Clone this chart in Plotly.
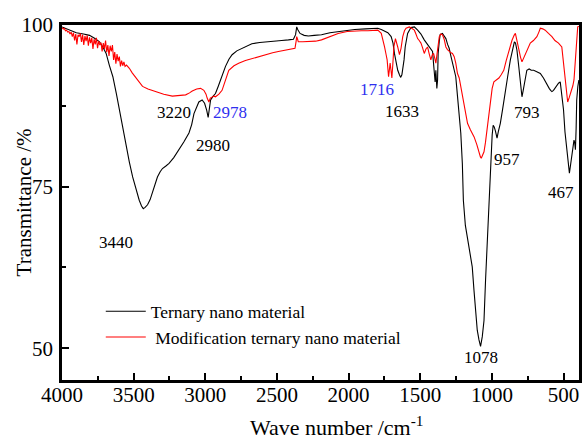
import plotly.graph_objects as go

# ---- Data ----
wn_ternary = [4000, 3950, 3900, 3850, 3808, 3770, 3738, 3715, 3692, 3670, 3645, 3620, 3600, 3575,
              3553, 3530, 3507, 3485, 3461, 3445, 3433, 3420, 3403, 3385, 3369, 3350, 3334, 3315,
              3299, 3275, 3253, 3220, 3183, 3150, 3114, 3095, 3079, 3060, 3045, 3022, 3005, 2990,
              2980, 2972, 2963, 2945, 2929, 2910, 2894, 2875, 2859, 2835, 2813, 2780, 2744, 2700,
              2675, 2620, 2582, 2520, 2467, 2420, 2385, 2370, 2362, 2355, 2339, 2310, 2281, 2240,
              2189, 2130, 2073, 2010, 1957, 1880, 1830, 1796, 1772, 1749, 1726, 1703, 1690, 1680,
              1668, 1657, 1645, 1636, 1628, 1622, 1613, 1605, 1595, 1588, 1565, 1541, 1518, 1495,
              1472, 1450, 1437, 1414, 1405, 1402, 1396, 1391, 1384, 1379, 1375, 1367, 1361, 1345,
              1333, 1321, 1309, 1298, 1286, 1275, 1263, 1252, 1240, 1230, 1217, 1206, 1199, 1185,
              1172, 1160, 1148, 1137, 1125, 1114, 1102, 1090, 1079, 1067, 1055, 1044, 1033, 1021,
              1010, 1005, 998, 991, 983, 975, 968, 964, 955, 941, 925, 906, 890, 871, 855, 843,
              835, 825, 812, 802, 795, 790, 782, 774, 765, 756, 740, 725, 708, 690, 675, 662, 640,
              616, 600, 590, 581, 570, 555, 546, 535, 523, 512, 500, 490, 477, 466, 459, 450, 442,
              435, 427, 422, 417, 412, 408, 400, 393]
t_ternary = [99.7, 99.2, 98.8, 98.6, 98.4, 97.9, 97.4, 96.6, 95.6, 93.8, 92.0, 89.3, 86.9, 84.0,
             81.2, 78.8, 76.5, 74.6, 72.9, 72.0, 71.6, 71.8, 72.2, 73.0, 74.0, 75.3, 76.5, 77.3,
             77.8, 78.2, 78.6, 79.5, 80.7, 81.9, 83.3, 84.6, 86.3, 87.4, 88.1, 88.4, 87.9, 86.8,
             85.7, 87.0, 88.4, 89.0, 89.4, 90.5, 91.5, 92.6, 93.6, 94.7, 95.4, 96.0, 96.4, 96.9,
             97.1, 97.3, 97.4, 97.5, 97.6, 97.7, 97.8, 98.5, 99.7, 99.3, 98.7, 98.4, 98.3, 98.4,
             98.5, 98.8, 99.0, 99.2, 99.3, 99.4, 99.5, 99.5, 99.3, 99.1, 98.8, 98.2, 97.2, 95.6,
             94.3, 93.0, 92.3, 91.9, 92.3, 93.0, 94.6, 96.6, 98.0, 98.7, 99.6, 99.7, 99.2, 98.6,
             97.7, 97.0, 96.6, 95.9, 93.5, 92.5, 91.2, 93.0, 90.2, 91.5, 95.6, 97.5, 98.5, 98.7,
             98.3, 97.9, 97.0, 96.4, 95.2, 94.1, 93.0, 92.0, 89.0, 86.5, 83.3, 78.5, 72.9, 69.0,
             67.3, 65.7, 64.2, 62.6, 59.0, 55.4, 52.8, 51.3, 50.3, 51.8, 54.3, 60.6, 65.7, 70.9,
             76.0, 80.5, 83.0, 84.5, 84.2, 83.6, 82.8, 82.5, 83.5, 84.8, 87.0, 89.4, 92.0, 94.6,
             96.5, 97.4, 97.2, 96.1, 93.5, 91.0, 89.5, 88.9, 89.8, 91.0, 92.2, 93.0, 93.2, 93.0,
             93.0, 92.8, 92.6, 92.5, 91.8, 90.7, 90.2, 89.9, 89.7, 89.9, 90.4, 90.7, 91.0, 91.2,
             89.5, 86.9, 83.5, 80.7, 78.2, 77.1, 78.5, 79.6, 81.0, 82.2, 81.8, 80.7, 84.0, 88.4,
             90.5, 91.5]

wn_modified = [4000, 3992, 3984, 3976, 3968, 3960, 3952, 3944, 3936, 3928, 3920, 3912, 3904, 3896,
               3888, 3880, 3872, 3864, 3856, 3848, 3840, 3832, 3824, 3816, 3808, 3800, 3792, 3784,
               3776, 3768, 3760, 3752, 3744, 3736, 3728, 3720, 3712, 3704, 3696, 3688, 3680, 3672,
               3664, 3656, 3648, 3640, 3632, 3624, 3616, 3608, 3600, 3592, 3584, 3576, 3568, 3560,
               3550, 3530, 3510, 3490, 3473, 3455,
               3438, 3400, 3345, 3290, 3230, 3180, 3137, 3110, 3091, 3060, 3033, 3010, 2995, 2987,
               2975, 2965, 2952, 2940, 2929, 2905, 2883, 2860, 2836, 2800, 2767, 2720, 2675, 2620,
               2582, 2530, 2490, 2440, 2397, 2374, 2366, 2362, 2356, 2351, 2320, 2281, 2230, 2189,
               2130, 2073, 2010, 1957, 1910, 1865, 1830, 1796, 1772, 1760, 1749, 1738, 1731, 1721,
               1715, 1710, 1704, 1698, 1691, 1684, 1673, 1665, 1657, 1645, 1634, 1622, 1610, 1599,
               1588, 1576, 1560, 1541, 1530, 1518, 1507, 1495, 1484, 1472, 1460, 1449, 1437, 1426,
               1416, 1407, 1400, 1391, 1380, 1367, 1356, 1345, 1333, 1321, 1310, 1298, 1285, 1275,
               1263, 1252, 1240, 1228, 1217, 1200, 1183, 1170, 1150, 1124, 1105, 1090, 1080, 1074,
               1065, 1055, 1045, 1033, 1021, 1010, 998, 986, 970, 951, 935, 917, 900, 882, 860, 845,
               836, 825, 813, 800, 790, 780, 767, 750, 732, 710, 686, 672, 662, 645, 628, 605, 581,
               560, 535, 512, 500, 489, 480, 471, 460, 450, 442, 435, 427, 418, 408, 401, 393]
t_modified = [99.6, 99.4, 99.5, 99.1, 99.2, 98.9, 99.0, 98.6, 98.9, 98.2, 98.8, 97.6, 98.6, 97.0,
              98.5, 98.2, 98.7, 97.4, 98.5, 96.9, 98.3, 97.5, 98.4, 96.8, 98.1, 97.2, 98.0, 96.3,
              97.8, 97.0, 98.0, 96.4, 97.5, 96.9, 97.3, 95.9, 97.2, 96.3, 97.6, 95.8, 96.9, 95.2,
              96.8, 95.9, 96.9, 94.6, 95.8, 94.0, 95.5, 94.4, 95.1, 93.6, 94.5, 93.7, 94.3, 93.6,
              93.8, 93.3, 92.6, 92.0, 91.6, 91.0,
              90.5, 90.1, 89.7, 89.3, 89.0, 89.1, 89.2, 89.5, 89.8, 90.1, 90.2, 89.9, 89.3, 88.7,
              88.1, 88.7, 88.9, 89.0, 88.9, 89.3, 89.9, 91.5, 93.0, 93.7, 94.1, 94.5, 94.8, 95.2,
              95.4, 95.7, 95.9, 96.1, 96.2, 96.4, 97.5, 98.2, 97.8, 97.4, 97.4, 97.4, 97.5, 97.7,
              98.2, 98.7, 99.0, 99.1, 99.1, 99.1, 99.2, 99.2, 98.7, 97.8, 96.6, 95.4, 94.6, 92.0,
              93.5, 94.1, 93.0, 91.8, 94.0, 96.6, 97.9, 97.4, 96.6, 95.4, 96.4, 98.2, 99.1, 99.5,
              99.6, 99.7, 99.5, 99.2, 98.6, 97.9, 97.6, 97.2, 96.5, 95.6, 96.3, 96.6, 95.5, 94.6,
              95.4, 95.6, 95.0, 94.1, 96.0, 98.2, 98.6, 98.5, 97.8, 96.6, 96.2, 95.9, 95.7, 95.6,
              95.1, 94.1, 92.5, 91.8, 90.5, 88.5, 86.5, 84.8, 83.8, 82.7, 81.5, 80.2, 79.6, 79.4,
              79.8, 80.4, 81.8, 83.8, 86.2, 88.4, 90.2, 91.2, 91.5, 91.8, 92.3, 93.0, 94.5, 96.1,
              97.6, 98.4, 98.7, 97.6, 96.1, 95.0, 94.3, 94.8, 95.6, 96.5, 97.2, 97.6, 98.2, 98.9,
              99.5, 99.4, 99.2, 98.7, 98.2, 97.6, 97.2, 96.6, 94.0, 91.0, 89.0, 88.1, 88.8, 89.5,
              89.9, 90.6, 91.5, 94.5, 98.7, 99.7, 99.8]

series_names = ["Ternary nano material", "\u00a0Modification ternary nano material"]
series_colors = ["#000000", "#ff0000"]

# peak labels: (text, wavenumber position, transmittance position, colour)
peak_text = ["3220", "2978", "2980", "3440", "1716", "1633", "793", "957", "467", "1078"]
peak_x = [3218, 2831, 2947, 3620, 1803, 1627, 753, 893, 515, 1075]
peak_y = [86.4, 86.4, 81.4, 66.3, 90.1, 86.7, 86.5, 79.2, 74.1, 48.6]
peak_color = ["#000000", "#2f2fef", "#000000", "#000000", "#2f2fef", "#000000", "#000000",
              "#000000", "#000000", "#000000"]

x_tickvals = [4000, 3500, 3000, 2500, 2000, 1500, 1000, 500]
y_tickvals = [50, 75, 100]

FONT = "Liberation Serif"

fig = go.Figure()
fig.add_trace(go.Scatter(x=wn_ternary, y=t_ternary, mode="lines", name=series_names[0],
                         line=dict(color=series_colors[0], width=1.1)))
fig.add_trace(go.Scatter(x=wn_modified, y=t_modified, mode="lines", name=series_names[1],
                         line=dict(color=series_colors[1], width=1.1)))

for txt, xv, yv, col in zip(peak_text, peak_x, peak_y, peak_color):
    fig.add_annotation(x=xv, y=yv, text=txt, showarrow=False, xref="x", yref="y",
                       xanchor="center", yanchor="middle",
                       font=dict(family=FONT, size=17, color=col))

# axis titles
fig.add_annotation(text="Wave number /cm<sup>-1</sup>", xref="paper", yref="paper",
                   x=0.532, y=-0.13, showarrow=False, xanchor="center", yanchor="middle",
                   font=dict(family=FONT, size=22, color="#000000"))
fig.add_annotation(text="Transmittance /%", xref="paper", yref="paper",
                   x=-0.0737, y=0.5, showarrow=False, xanchor="center", yanchor="middle",
                   textangle=-90, font=dict(family=FONT, size=21, color="#000000"))

fig.update_layout(
    width=584, height=439,
    margin=dict(l=62, r=2, t=25, b=59),
    paper_bgcolor="white", plot_bgcolor="white",
    font=dict(family=FONT, color="#000000"),
    showlegend=True,
    legend=dict(x=0.075, y=0.244, xanchor="left", yanchor="top",
                bgcolor="rgba(0,0,0,0)", borderwidth=0,
                font=dict(family=FONT, size=17.5, color="#000000"),
                itemwidth=40, tracegroupgap=0),
)
fig.update_xaxes(range=[4000, 392], tickvals=x_tickvals, ticks="inside", ticklen=7, tickwidth=2,
                 tickcolor="#000000", showline=True, linewidth=2.5, linecolor="#000000",
                 mirror=True, showgrid=False, zeroline=False, ticklabelstandoff=-6,
                 tickfont=dict(family=FONT, size=21, color="#000000"),
                 minor=dict(dtick=250, tick0=0, ticks="inside", ticklen=4, tickwidth=2,
                            tickcolor="#000000", showgrid=False))
fig.update_yaxes(range=[45.1, 100], tickvals=y_tickvals, ticks="inside", ticklen=7, tickwidth=2,
                 tickcolor="#000000", showline=True, linewidth=2.5, linecolor="#000000",
                 mirror=True, showgrid=False, zeroline=False, ticklabelstandoff=2,
                 tickfont=dict(family=FONT, size=21, color="#000000"),
                 minor=dict(dtick=12.5, tick0=0, ticks="inside", ticklen=4, tickwidth=2,
                            tickcolor="#000000", showgrid=False))

fig.write_html("out.html")
